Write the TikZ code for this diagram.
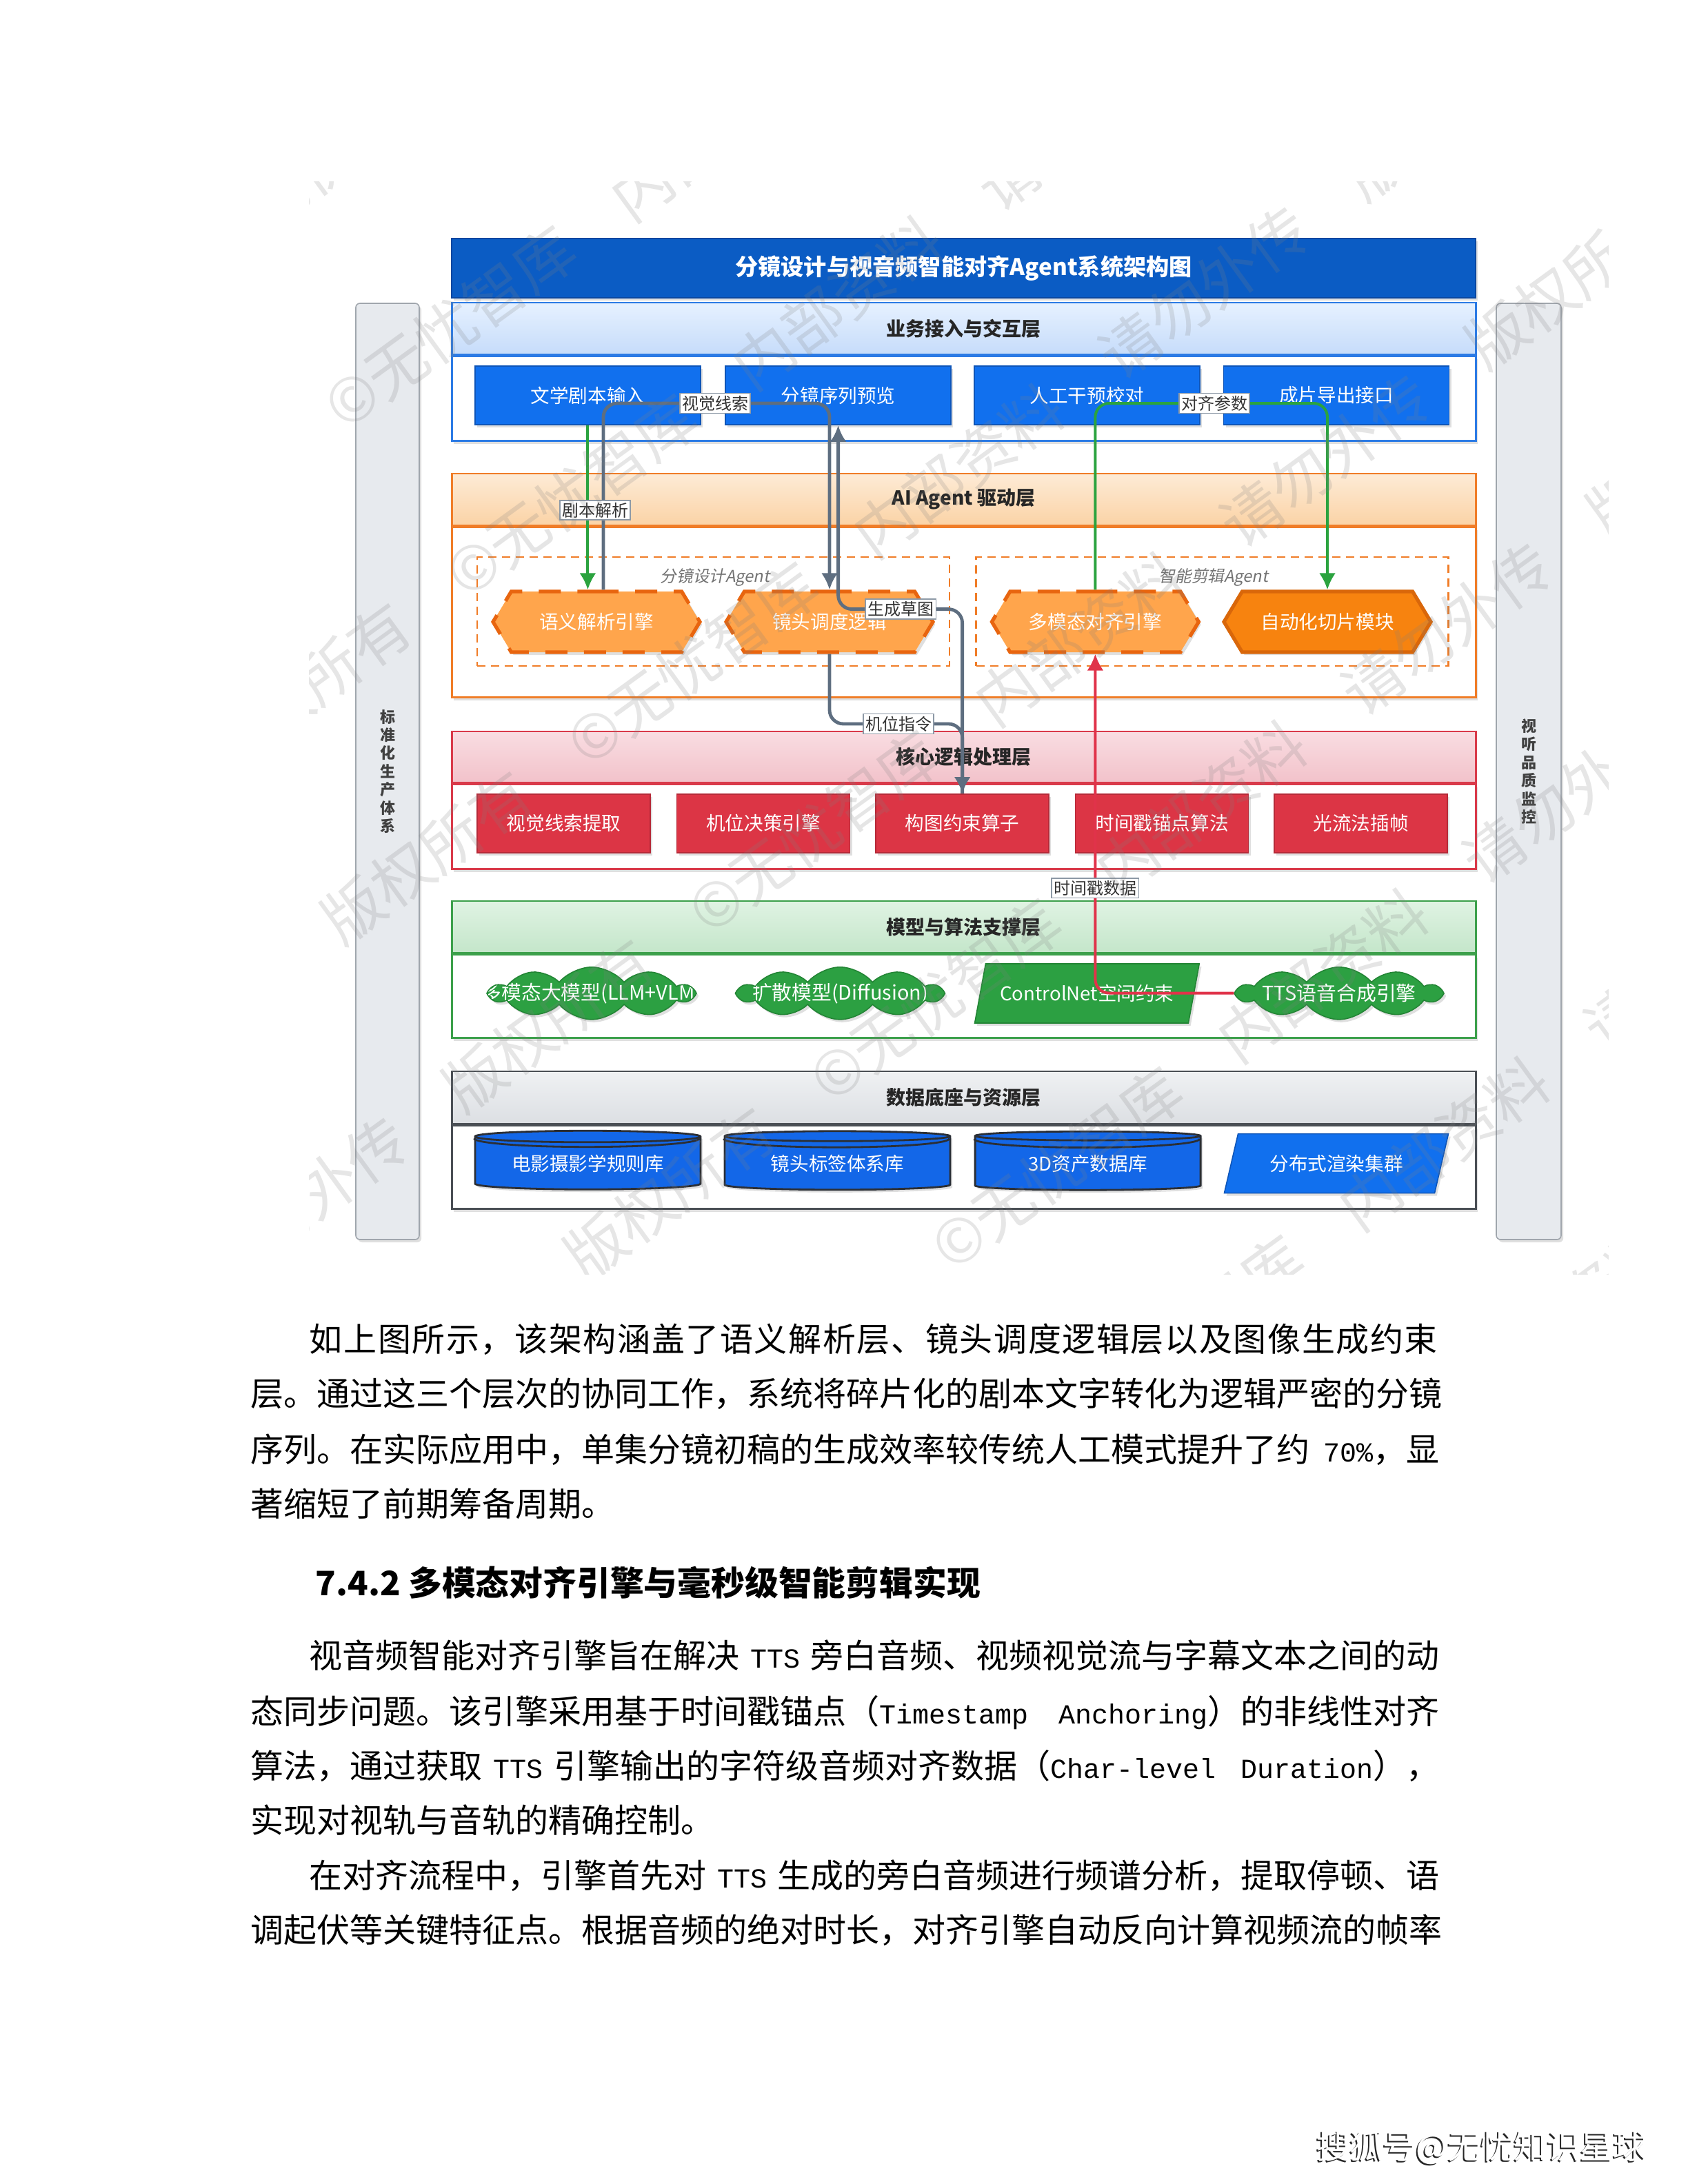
\documentclass[tikz,border=0pt]{standalone}
\usepackage{fontspec}
\setmainfont{Noto Sans CJK SC}
\newfontfamily\cjkslant[FakeSlant=0.2]{Noto Sans CJK SC}
\newfontfamily\monofnt{Liberation Mono}
\usetikzlibrary{positioning,shapes.geometric,shapes.symbols,arrows.meta,shadows}
%spaziatura giustificata
\XeTeXinterchartokenstate=1
\def\cjkglue{\hskip 0pt plus 2pt minus 0.5pt\relax}
\XeTeXinterchartoks 1 1 {\cjkglue}
\XeTeXinterchartoks 1 2 {\cjkglue}
\XeTeXinterchartoks 1 3 {\cjkglue}
\XeTeXinterchartoks 2 1 {\cjkglue}
\XeTeXinterchartoks 3 1 {\cjkglue}
\XeTeXinterchartoks 3 2 {\cjkglue}
\XeTeXinterchartoks 3 3 {\cjkglue}
\newcommand{\lat}[1]{{\monofnt\fontsize{10}{12}\selectfont #1}}
%colori
\definecolor{titlefill}{HTML}{0B5CC4}
\definecolor{titleline}{HTML}{0A47A0}
\definecolor{lay1line}{HTML}{2C7BE5}
\definecolor{lay1top}{HTML}{E6F1FF}
\definecolor{lay1bot}{HTML}{C6DCFA}
\definecolor{lay2line}{HTML}{F07D28}
\definecolor{lay2top}{HTML}{FDEBD6}
\definecolor{lay2bot}{HTML}{FBD3A6}
\definecolor{lay3line}{HTML}{D93A4A}
\definecolor{lay3top}{HTML}{F9DDE2}
\definecolor{lay3bot}{HTML}{F2C2CA}
\definecolor{lay4line}{HTML}{3CA04B}
\definecolor{lay4top}{HTML}{E0F3E3}
\definecolor{lay4bot}{HTML}{C4E6CA}
\definecolor{lay5line}{HTML}{4A4F55}
\definecolor{lay5top}{HTML}{EFF1F3}
\definecolor{lay5bot}{HTML}{DCDFE3}
\definecolor{blueb}{HTML}{1170EE}
\definecolor{bluebline}{HTML}{0E55B8}
\definecolor{hexfill}{HTML}{FFA54C}
\definecolor{hexline}{HTML}{E8650F}
\definecolor{hex4fill}{HTML}{F7830F}
\definecolor{hex4line}{HTML}{D9670A}
\definecolor{redb}{HTML}{DC3545}
\definecolor{redbline}{HTML}{B52A38}
\definecolor{cloudfill}{HTML}{2CA042}
\definecolor{cloudfillline}{HTML}{238535}
\definecolor{cylfill}{HTML}{1367E8}
\definecolor{cylline}{HTML}{2B2F36}
\definecolor{sidefill}{HTML}{E7EAEE}
\definecolor{sideline}{HTML}{A0A6AD}
\definecolor{arrgray}{HTML}{5E6E80}
\definecolor{arrgreen}{HTML}{2BA33F}
\definecolor{arrred}{HTML}{E0334A}
\definecolor{lblline}{HTML}{8D99A6}
\tikzset{
  shad/.style={drop shadow={shadow xshift=0.8pt, shadow yshift=-1pt, opacity=0.25}},
  titlebar/.style={shad, draw=titleline, fill=titlefill, minimum width=371.25pt, minimum height=21.5pt, inner sep=0pt, text=white, font=\fontsize{8.3}{10}\selectfont\bfseries},
  sidebar/.style={shad, draw=sideline, fill=sidefill, rounded corners=1.5pt, minimum height=339.5pt, inner sep=0pt, align=center, text=black!75, font=\fontsize{5.5}{6.6}\selectfont\bfseries},
  layhead/.style={draw=#1line, top color=#1top, bottom color=#1bot, line width=0.7pt, minimum width=371.25pt, inner sep=0pt, text=black!85, font=\fontsize{7}{8}\selectfont\bfseries},
  laybody/.style={shad, draw=#1line, fill=white, line width=0.7pt, minimum width=371.25pt, inner sep=0pt},
  bluebox/.style={shad, draw=bluebline, fill=blueb, minimum width=81.75pt, minimum height=21.25pt, inner sep=0pt, text=white, font=\fontsize{6.9}{8}\selectfont},
  grpbox/.style={draw=lay2line, dash pattern=on 3pt off 2pt, line width=0.7pt, minimum width=171.25pt, minimum height=39.5pt, inner sep=0pt},
  grplbl/.style={inner sep=0pt, text=black!55, font=\fontsize{5.9}{7}\selectfont\cjkslant},
  hexbox/.style={shad, signal, signal to=west and east, signal pointer angle=118, draw=hexline, fill=hexfill, line width=1.3pt, dash pattern=on 8pt off 6pt, minimum width=75pt, minimum height=22pt, inner sep=0pt, text=white, font=\fontsize{6.9}{8}\selectfont},
  hexsolid/.style={hexbox, solid, draw=hex4line, fill=hex4fill},
  corebox/.style={shad, draw=redbline, fill=redb, minimum width=62.75pt, minimum height=21.25pt, inner sep=0pt, text=white, font=\fontsize{6.9}{8}\selectfont},
  cloudbox/.style={shad, cloud, cloud puffs=10, cloud puff arc=100, aspect=4, draw=cloudfillline, fill=cloudfill, minimum width=73.5pt, minimum height=19pt, inner sep=0pt,
    path picture={\node[text=white, font=\fontsize{7.2}{8}\selectfont] at (path picture bounding box.center) {#1};}},
  parabox/.style={shad, trapezium, trapezium left angle=62, trapezium right angle=118, trapezium stretches=true, draw=#1line, fill=#1, minimum width=81.5pt, minimum height=21.5pt, inner sep=0pt, text=white, font=\fontsize{6.9}{8}\selectfont},
  cylbox/.style={shad, cylinder, shape border rotate=90, shape aspect=0.075, draw=cylline, fill=cylfill, line width=0.7pt, minimum width=81.75pt, minimum height=21.25pt, inner sep=0pt, text=white, font=\fontsize{6.9}{8}\selectfont},
  cyltop/.style={draw=cylline, line width=0.7pt},
  lbl/.style={draw=lblline, fill=white, inner sep=0.8pt, text=black!80, font=\fontsize{6}{7}\selectfont},
  gry/.style={draw=arrgray, line width=1.2pt, rounded corners=5pt},
  grn/.style={draw=arrgreen, line width=1pt, rounded corners=5pt},
  rd/.style={draw=arrred, line width=1pt, rounded corners=5pt},
  arr/.style={-{Latex[length=6pt,width=6pt]}},
  bodyln/.style={anchor=base west, inner sep=0pt, font=\fontsize{12}{14}\selectfont},
  wmark/.style={rotate=36, text=gray, opacity=0.2, font=\fontsize{22}{22}\selectfont}
}
\begin{document}
\begin{tikzpicture}[x=1pt,y=-1pt]
\useasboundingbox (0,0) rectangle (612,792);
%titolo
\node[titlebar] (title) at (349.4,97.25) {分镜设计与视音频智能对齐Agent系统架构图};
%barre laterali
\node[sidebar, minimum width=23pt] (sideL) at (140.5,279.75) {标\\准\\化\\生\\产\\体\\系};
\node[sidebar, minimum width=23.5pt] (sideR) at (554.25,279.75) {视\\听\\品\\质\\监\\控};
%livello 1
\node[layhead=lay1, minimum height=18.75pt] (lay1h) at (349.4,119.1) {业务接入与交互层};
\node[laybody=lay1, minimum height=30.75pt, below=0pt of lay1h] (lay1b) {};
\node[bluebox] (box1) at (213.1,143.4) {文学剧本输入};
\node[bluebox] (box2) at (303.9,143.4) {分镜序列预览};
\node[bluebox] (box3) at (394.1,143.4) {人工干预校对};
\node[bluebox] (box4) at (484.5,143.4) {成片导出接口};
%livello 2
\node[layhead=lay2, minimum height=18.75pt] (lay2h) at (349.4,181.1) {AI Agent 驱动层};
\node[laybody=lay2, minimum height=61.75pt, below=0pt of lay2h] (lay2b) {};
\node[grpbox] (grp1) at (258.6,221.75) {};
\node[grpbox] (grp2) at (439.5,221.75) {};
\node[grplbl] (grp1lbl) at (259.25,209.25) {分镜设计Agent};
\node[grplbl] (grp2lbl) at (440,209.25) {智能剪辑Agent};
\node[hexbox] (hex1) at (216.25,225.5) {语义解析引擎};
\node[hexbox] (hex2) at (300.75,225.5) {镜头调度逻辑};
\node[hexbox] (hex3) at (397.1,225.5) {多模态对齐引擎};
\node[hexsolid] (hex4) at (481.25,225.5) {自动化切片模块};
%livello 3
\node[layhead=lay3, minimum height=18.5pt] (lay3h) at (349.4,274.5) {核心逻辑处理层};
\node[laybody=lay3, minimum height=30.75pt, below=0pt of lay3h] (lay3b) {};
\node[corebox] (red1) at (204.4,298.6) {视觉线索提取};
\node[corebox] (red2) at (276.75,298.6) {机位决策引擎};
\node[corebox] (red3) at (348.9,298.6) {构图约束算子};
\node[corebox] (red4) at (421.25,298.6) {时间戳锚点算法};
\node[corebox] (red5) at (493.4,298.6) {光流法插帧};
%livello 4
\node[layhead=lay4, minimum height=18.75pt] (lay4h) at (349.4,336.1) {模型与算法支撑层};
\node[laybody=lay4, minimum height=30.25pt, below=0pt of lay4h] (lay4b) {};
\node[cloudbox={多模态大模型(LLM+VLM)}] (cloud1) at (214.5,360.2) {};
\node[cloudbox={扩散模型(Diffusion)}] (cloud2) at (304.6,360.2) {};
\node[parabox=cloudfill] (ctrl) at (394.1,360.25) {ControlNet空间约束};
\node[cloudbox={TTS语音合成引擎}] (cloud4) at (485.5,360.2) {};
%livello 5
\node[layhead=lay5, minimum height=19pt] (lay5h) at (349.4,398) {数据底座与资源层};
\node[laybody=lay5, minimum height=30.25pt, below=0pt of lay5h] (lay5b) {};
\node[cylbox] (cyl1) at (213.1,421.9) {电影摄影学规则库};
\node[cylbox] (cyl2) at (303.6,421.9) {镜头标签体系库};
\node[cylbox] (cyl3) at (394.4,421.9) {3D资产数据库};
\node[parabox=blueb] (render) at (484.5,421.9) {分布式渲染集群};
\draw[cyltop] ([yshift=-3.1pt]cyl1.north -| cyl1.west) arc[start angle=180, end angle=360, x radius=40.875pt, y radius=3.1pt];
\draw[cyltop] ([yshift=-3.1pt]cyl2.north -| cyl2.west) arc[start angle=180, end angle=360, x radius=40.875pt, y radius=3.1pt];
\draw[cyltop] ([yshift=-3.1pt]cyl3.north -| cyl3.west) arc[start angle=180, end angle=360, x radius=40.875pt, y radius=3.1pt];
%connettori
\coordinate (scrc) at (215.75,185);
\coordinate (visc) at (259.25,146.25);
\coordinate (algc) at (440.25,146.25);
\coordinate (genc) at (326.6,220.9);
\coordinate (camc) at (325.75,262.5);
\coordinate (tsc) at (397.1,322);
\draw[grn,arr] (box1.south) -- (box1.south |- hex1.north);
\draw[gry,arr] ([xshift=2.5pt]hex1.north) |- (visc) -| (hex2.north);
\draw[gry,arr] (red3.north) |- (genc) -| (box2.south);
\draw[gry,arr] (hex2.south) |- (camc) -| (red3.north);
\draw[grn,arr] (hex3.north) |- (algc) -| (hex4.north);
\draw[rd,arr] (cloud4.west) -| (hex3.south);
%etichette
\node[lbl] (scrlbl) at (scrc) {剧本解析};
\node[lbl] (vislbl) at (visc) {视觉线索};
\node[lbl] (alglbl) at (algc) {对齐参数};
\node[lbl] (genlbl) at (genc) {生成草图};
\node[lbl] (camlbl) at (camc) {机位指令};
\node[lbl] (tslbl) at (tsc) {时间戳数据};
%filigrana
\begin{scope}
\clip (112,66) rectangle (583,462);
\foreach \k [count=\i] in {-5,...,5}{
  \node[wmark] (wm\i) at (347+44*\k,264+61*\k) {内部资料\quad 请勿外传\quad 版权所有\quad ©无忧智库\quad 内部资料\quad 请勿外传\quad 版权所有\quad ©无忧智库};
}
\end{scope}
%testo
\node[bodyln] (p1l1) at (112,490) {\makebox[409.75pt][s]{\addfontfeature{LetterSpace=3.4}如上图所示，该架构涵盖了语义解析层、镜头调度逻辑层以及图像生成约束}};
\node[bodyln] (p1l2) at (90.75,509.8) {\makebox[431pt][s]{层。通过这三个层次的协同工作，系统将碎片化的剧本文字转化为逻辑严密的分镜}};
\node[bodyln] (p1l3) at (90.75,530) {\makebox[431pt][s]{序列。在实际应用中，单集分镜初稿的生成效率较传统人工模式提升了约 \lat{70\%}，显}};
\node[bodyln] (p1l4) at (90.75,549.8) {著缩短了前期筹备周期。};
\node[anchor=base west, inner sep=0pt, font=\fontsize{12.2}{14}\selectfont\bfseries] (sec) at (114.25,578.6) {7.4.2 多模态对齐引擎与毫秒级智能剪辑实现};
\node[bodyln] (p2l1) at (112,604.8) {\makebox[409.75pt][s]{视音频智能对齐引擎旨在解决 \lat{TTS} 旁白音频、视频视觉流与字幕文本之间的动}};
\node[bodyln] (p2l2) at (90.75,625) {\makebox[431pt][s]{态同步问题。该引擎采用基于时间戳锚点（\lat{Timestamp Anchoring}）的非线性对齐}};
\node[bodyln] (p2l3) at (90.75,644.8) {\makebox[431pt][s]{算法，通过获取 \lat{TTS} 引擎输出的字符级音频对齐数据（\lat{Char-level Duration}），}};
\node[bodyln] (p2l4) at (90.75,664.5) {实现对视轨与音轨的精确控制。};
\node[bodyln] (p3l1) at (112,684.5) {\makebox[409.75pt][s]{在对齐流程中，引擎首先对 \lat{TTS} 生成的旁白音频进行频谱分析，提取停顿、语}};
\node[bodyln] (p3l2) at (90.75,704.3) {\makebox[431pt][s]{调起伏等关键特征点。根据音频的绝对时长，对齐引擎自动反向计算视频流的帧率}};
%firma
\node[anchor=base west, inner sep=0pt, text=black!85, font=\fontsize{12}{14}\selectfont] (footsh) at (476.7,783.4) {搜狐号@无忧知识星球};
\node[anchor=base west, inner sep=0pt, text=white, font=\fontsize{12}{14}\selectfont] (foot) at (477.25,782.75) {搜狐号@无忧知识星球};
\end{tikzpicture}
\end{document}
